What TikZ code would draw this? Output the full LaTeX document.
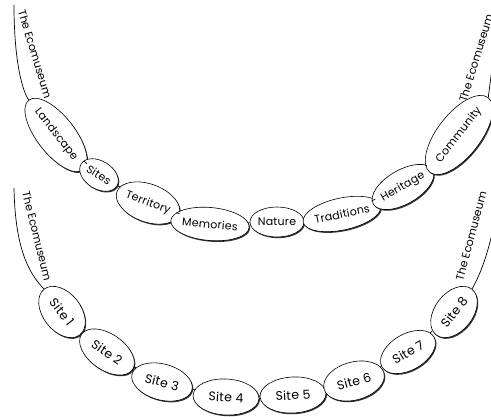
\documentclass[tikz,border=0pt]{standalone}
\usepackage{fontspec}
\setmainfont{Poppins}
\newfontfamily\perlefont[LetterSpace=2]{Poppins}
\usetikzlibrary{shapes.geometric, shadows}
\tikzset{
  perle/.style={ellipse, draw, line width=0.6pt, fill=white, inner sep=0pt,
    font=\perlefont\fontsize{11}{12}\selectfont,
    drop shadow={shadow xshift=1pt, shadow yshift=-1.2pt, opacity=1, fill=black!80}},
  site/.style={perle, font=\perlefont\fontsize{12.5}{14}\selectfont},
  fil/.style={line width=0.7pt},
  titre/.style={font=\fontsize{11}{13}\selectfont, inner sep=0pt}
}

\begin{document}
\begin{tikzpicture}[x=1pt, y=-1pt]
  \useasboundingbox (0,0) rectangle (491,417);
  % Collier du haut
  \node[perle, minimum width=66pt, minimum height=38pt, rotate=-52] (landscape) at (56,135) {Landscape};
  \node[perle, minimum width=42pt, minimum height=28pt, rotate=-32] (sites) at (99,175) {Sites};
  \node[perle, minimum width=58pt, minimum height=38pt, rotate=-20] (territory) at (148,203) {Territory};
  \node[perle, minimum width=72pt, minimum height=33pt, rotate=-5] (memories) at (210,224) {Memories};
  \node[perle, minimum width=54pt, minimum height=30pt] (nature) at (277,222) {Nature};
  \node[perle, minimum width=70pt, minimum height=32pt, rotate=12] (traditions) at (342,214) {Traditions};
  \node[perle, minimum width=58pt, minimum height=34pt, rotate=30] (heritage) at (403,187) {Heritage};
  \node[perle, minimum width=78pt, minimum height=43pt, rotate=52] (community) at (459,135) {Community};
  % Fil entre les perles
  \draw[fil] (landscape) -- (sites) -- (territory) -- (memories) -- (nature)
    -- (traditions) -- (heritage) -- (community);
  % Extremites du fil
  \coordinate (hg) at (14,5);
  \coordinate (hd) at (498,0);
  \draw[fil] (hg) .. controls (14,60) and (22,90) .. (landscape.west);
  \draw[fil] (community.east) .. controls (489,90) and (494,60) .. (hd);
  \node[titre, rotate=-73] (ecohg) at (35,54) {The Ecomuseum};
  \node[titre, rotate=73] (ecohd) at (476,58) {The Ecomuseum};

  % Collier du bas
  \node[site, minimum width=58pt, minimum height=38pt, rotate=-52] (site1) at (62,312) {Site 1};
  \node[site, minimum width=62pt, minimum height=36pt, rotate=-35] (site2) at (107,352) {Site 2};
  \node[site, minimum width=62pt, minimum height=36pt, rotate=-15] (site3) at (162,382) {Site 3};
  \node[site, minimum width=66pt, minimum height=36pt, rotate=-3] (site4) at (226,397) {Site 4};
  \node[site, minimum width=66pt, minimum height=36pt, rotate=3] (site5) at (293,395) {Site 5};
  \node[site, minimum width=62pt, minimum height=38pt, rotate=15] (site6) at (354,381) {Site 6};
  \node[site, minimum width=60pt, minimum height=36pt, rotate=30] (site7) at (408,352) {Site 7};
  \node[site, minimum width=58pt, minimum height=38pt, rotate=52] (site8) at (454,312) {Site 8};
  % Fil entre les perles
  \draw[fil] (site1) -- (site2) -- (site3) -- (site4) -- (site5)
    -- (site6) -- (site7) -- (site8);
  % Extremites du fil
  \coordinate (bg) at (14,188);
  \coordinate (bd) at (495,220);
  \draw[fil] (bg) .. controls (15,240) and (25,270) .. (site1.west);
  \draw[fil] (site8.east) .. controls (480,275) and (488,255) .. (bd);
  \node[titre, rotate=-76] (ecobg) at (37,236) {The Ecomuseum};
  \node[titre, rotate=75] (ecobd) at (471,236) {The Ecomuseum};
\end{tikzpicture}
\end{document}
